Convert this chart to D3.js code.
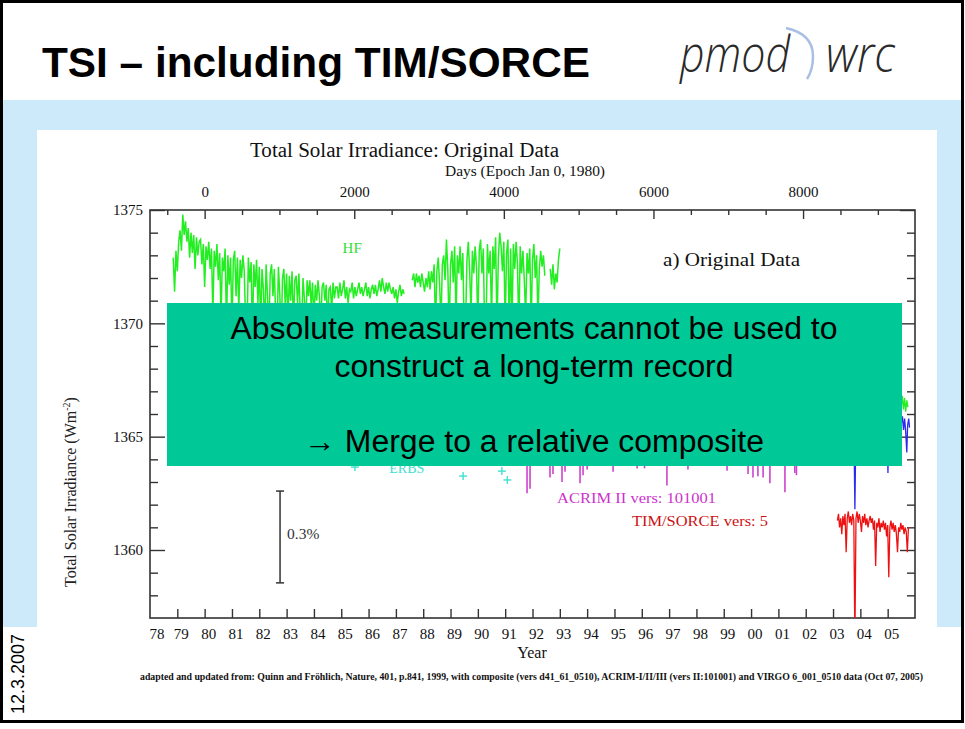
<!DOCTYPE html>
<html>
<head>
<meta charset="utf-8">
<script src="https://cdn.jsdelivr.net/npm/d3@7"></script>
<style>
  body { margin: 0; background: #fff; }
</style>
</head>
<body>
<div id="chart"></div>
<script>
// ---- data ----
// Nimbus-7 HF, one value every 0.05 yr from 1978.85 (null = data gap)
var hfStart = 1978.85, hfStep = 0.05;
var hfValues = [
  1372.9, 1371.4, 1373.2, 1372.3, 1373.6, 1374.1, 1373.2, 1374.8, 1373.9, 1374.5,
  1373.6, 1374.2, 1372.9, 1374.0, 1373.1, 1373.9, 1372.4, 1373.8, 1373.0, 1373.6,
  1373.7, 1372.6, 1373.5, 1371.6, 1373.4, 1372.8, 1373.6, 1372.4, 1373.3, 1370.4,
  1373.2, 1372.5, 1373.5, 1371.9, 1373.1, 1370.2, 1372.9, 1372.3, 1373.3, 1369.8,
  1373.0, 1371.7, 1372.9, 1369.8, 1372.8, 1373.2, 1371.2, 1372.9, 1370.6, 1372.8,
  1372.0, 1373.0, 1372.3, 1370.0, 1369.6, 1372.9, 1371.8, 1372.7, 1369.5, 1372.6,
  1371.6, 1372.8, 1370.9, 1372.5, 1369.8, 1372.4, 1371.5, 1369.7, 1372.6, 1371.2,
  1369.6, 1372.2, 1372.6, 1371.2, 1372.4, 1370.3, 1369.6, 1372.5, 1371.3, 1369.4,
  1372.0, 1372.4, 1370.8, 1372.2, 1370.0, 1372.1, 1371.0, 1372.3, 1369.9, 1371.9,
  1372.1, 1370.9, 1372.2, 1370.4, 1369.8, 1372.0, 1371.1, 1369.7, 1371.9, 1371.2,
  1371.9, 1370.8, 1371.8, 1370.1, 1371.7, 1371.0, 1371.9, 1371.2, 1369.9, 1371.6,
  1371.8, 1371.0, 1371.7, 1369.9, 1371.5, 1371.6, 1370.6, 1371.8, 1371.1, 1371.6,
  1371.6, 1371.1, 1371.8, 1371.2, 1371.5, 1371.9, 1371.1, 1371.6, 1370.9, 1371.5,
  1371.4, 1371.8, 1371.1, 1371.6, 1371.2, 1371.5, 1371.8, 1371.3, 1371.6, 1371.2,
  1371.5, 1371.8, 1371.2, 1371.6, 1371.1, 1371.5, 1371.7, 1371.3, 1371.7, 1371.2,
  1371.5, 1371.9, 1371.4, 1372.0, 1371.6, 1371.3, 1371.8, 1371.4, 1371.8, 1371.5,
  1371.3, 1371.6, 1371.1, 1371.5, 1370.9, 1371.4, 1371.7, 1371.2, 1371.5, 1371.3,
  null, null, null, null, null, 1371.9, 1372.2, 1371.6, 1372.2, 1371.8,
  1372.1, 1371.6, 1372.2, 1371.8, 1371.4, 1372.0, 1371.6, 1372.3, 1371.5, 1372.3,
  1371.8, 1372.6, 1369.8, 1372.3, 1372.9, 1371.7, 1370.0, 1372.6, 1373.0, 1371.9,
  1373.7, 1372.4, 1369.5, 1372.6, 1373.2, 1371.8, 1373.4, 1370.1, 1373.0, 1372.2,
  1373.4, 1371.9, 1373.1, 1369.6, 1369.9, 1372.8, 1373.6, 1372.3, 1370.4, 1373.2,
  1372.2, 1373.4, 1372.5, 1369.9, 1373.2, 1373.7, 1372.2, 1373.3, 1369.5, 1369.8,
  1373.5, 1372.2, 1373.2, 1370.2, 1373.4, 1372.4, 1373.8, 1369.7, 1372.9, 1374.0,
  1373.4, 1372.3, 1373.6, 1369.8, 1373.1, 1373.7, 1369.6, 1373.3, 1370.0, 1373.5,
  1372.4, 1373.6, 1372.6, 1369.6, 1373.4, 1372.2, 1373.2, 1371.9, 1370.3, 1373.1,
  1372.2, 1373.3, 1369.9, 1372.8, 1373.5, 1372.0, 1373.0, 1370.1, 1372.4, 1373.2,
  1372.5, 1373.0, 1372.1, null, null, null, 1372.4, 1371.7, 1372.6, 1371.5,
  1372.2, 1371.8, 1372.8, 1373.3
];

// TIM/SORCE, one value every 0.04 yr from 2003.16
var timStart = 2003.16, timStep = 0.04;
var timValues = [
  1361.3, 1361.6, 1361.0, 1361.4, 1360.7, 1361.5, 1361.1, 1361.6, 1359.9, 1361.4,
  1361.7, 1361.2, 1361.5, 1361.1, 1361.6, 1361.3, 1356.0, 1361.4, 1361.7, 1361.2,
  1361.6, 1361.3, 1360.8, 1361.5, 1361.2, 1361.6, 1361.1, 1361.4, 1361.0, 1361.3,
  1361.5, 1361.2, 1361.4, 1360.9, 1361.3, 1359.3, 1361.2, 1361.0, 1361.4, 1360.8,
  1361.2, 1361.0, 1361.3, 1360.9, 1361.2, 1360.6, 1361.1, 1358.8, 1361.0, 1361.3,
  1360.9, 1361.2, 1360.8, 1361.1, 1360.7, 1359.9, 1361.0, 1360.8, 1361.2, 1360.9,
  1361.1, 1360.7, 1361.0, 1360.8, 1359.9, 1361.0
];

// ACRIM II: level and the dips that reach below the level
var acrimLevel = 1364.6, acrimFirst = 1991.78, acrimLast = 2001.68;
var acrimDipYears  = [1991.80, 1991.91, 1992.64, 1992.75, 1993.08, 1993.19, 1993.74, 1993.85, 1994.00,
                      1994.95, 1995.83, 1996.10, 1996.92, 1997.69, 1999.12, 1999.89, 2000.07, 2000.25,
                      2000.44, 2000.69, 2001.24, 2001.60, 2001.66];
var acrimDipValues = [1362.5, 1362.7, 1363.2, 1363.35, 1363.0, 1363.45, 1362.95, 1363.3, 1363.55,
                      1363.45, 1363.6, 1363.6, 1362.85, 1363.55, 1363.5, 1363.35, 1363.2, 1363.25,
                      1363.2, 1362.95, 1362.55, 1363.4, 1363.3];

// ERBS
var erbsYears  = [1985.5, 1989.46, 1990.88, 1991.08];
var erbsValues = [1363.66, 1363.26, 1363.48, 1363.09];

// VIRGO
var virgoYears  = [1996.10, 1998.00, 2000.00, 2002.00, 2003.76, 2003.80, 2003.84, 2004.98, 2005.01, 2005.04,
                   2005.50, 2005.54, 2005.58, 2005.62, 2005.66, 2005.70, 2005.73, 2005.77, 2005.80];
var virgoValues = [1365.9, 1365.5, 1365.9, 1365.7, 1365.7, 1361.8, 1365.6, 1365.8, 1363.4, 1365.7,
                   1365.6, 1365.9, 1365.3, 1365.8, 1365.2, 1364.3, 1365.5, 1365.8, 1365.4];

// ACRIM III
var acrim3Years  = [2000.30, 2002.00, 2004.00, 2005.40, 2005.50, 2005.54, 2005.58, 2005.62, 2005.66, 2005.70, 2005.74];
var acrim3Values = [1366.4, 1366.6, 1366.3, 1366.5, 1366.3, 1366.8, 1366.2, 1366.7, 1366.1, 1366.6, 1366.3];

// axes
var yearTicks  = [1979, 1980, 1981, 1982, 1983, 1984, 1985, 1986, 1987, 1988, 1989, 1990, 1991, 1992,
                  1993, 1994, 1995, 1996, 1997, 1998, 1999, 2000, 2001, 2002, 2003, 2004, 2005];
var yearLabels = ["78", "79", "80", "81", "82", "83", "84", "85", "86", "87", "88", "89", "90", "91",
                  "92", "93", "94", "95", "96", "97", "98", "99", "00", "01", "02", "03", "04", "05"];
var dayTicks   = [0, 2000, 4000, 6000, 8000];
var dayMinor   = [-500, 500, 1000, 1500, 2500, 3000, 3500, 4500, 5000, 5500, 6500, 7000, 7500, 8500, 9000];
var irrTicks   = [1360, 1365, 1370, 1375];
var irrMinor   = [1358, 1359, 1361, 1362, 1363, 1364, 1366, 1367, 1368, 1369, 1371, 1372, 1373, 1374];

var W = 965, H = 729;
var SANS = "Liberation Sans, Arial, sans-serif";
var SERIF = "Liberation Serif, Times New Roman, serif";

var svg = d3.select("#chart").append("svg")
  .attr("width", W)
  .attr("height", H);

// slide background
svg.append("rect").attr("width", W).attr("height", H).attr("fill", "#fff");
svg.append("rect").attr("x", 3).attr("y", 100).attr("width", 959).attr("height", 527).attr("fill", "#cdeafb");
svg.append("rect").attr("x", 37).attr("y", 130).attr("width", 900).attr("height", 497).attr("fill", "#fff");

// slide title
svg.append("text")
  .attr("x", 42).attr("y", 77)
  .attr("font-family", SANS).attr("font-weight", "bold").attr("font-size", 43)
  .attr("fill", "#000")
  .attr("textLength", 548).attr("lengthAdjust", "spacingAndGlyphs")
  .text("TSI – including TIM/SORCE");

// logo
svg.append("text")
  .attr("x", 680).attr("y", 72)
  .attr("font-family", "Open Sans, sans-serif").attr("font-weight", 300).attr("font-style", "italic")
  .attr("font-size", 50).attr("fill", "#2a2a2a")
  .attr("textLength", 110).attr("lengthAdjust", "spacingAndGlyphs")
  .text("pmod");
svg.append("text")
  .attr("x", 826).attr("y", 72)
  .attr("font-family", "Open Sans, sans-serif").attr("font-weight", 300).attr("font-style", "italic")
  .attr("font-size", 50).attr("fill", "#2a2a2a")
  .attr("textLength", 69).attr("lengthAdjust", "spacingAndGlyphs")
  .text("wrc");
svg.append("path")
  .attr("d", "M786,28 Q813,34 813,56 Q813,70 807,79")
  .attr("fill", "none").attr("stroke", "#a9bfe3").attr("stroke-width", 2.5);

// date
svg.append("text")
  .attr("transform", "translate(24,674) rotate(-90)")
  .attr("text-anchor", "middle")
  .attr("font-family", SANS).attr("font-size", 18).attr("fill", "#000")
  .text("12.3.2007");

// ---- chart ----
var x = d3.scaleLinear().domain([1978, 2006]).range([150, 915]);
var days = d3.scaleLinear().domain([(1978 - 1980) * 365.25, (2006 - 1980) * 365.25]).range([150, 915]);
var y = d3.scaleLinear().domain([1357, 1375]).range([618, 210]);

var chart = svg.append("g").attr("font-family", SERIF);

chart.append("clipPath").attr("id", "plotclip")
  .append("rect").attr("x", 150).attr("y", 210).attr("width", 765).attr("height", 408);

chart.append("text")
  .attr("x", 250).attr("y", 157)
  .attr("font-size", 20).attr("fill", "#111")
  .attr("textLength", 309).attr("lengthAdjust", "spacingAndGlyphs")
  .text("Total Solar Irradiance: Original Data");
chart.append("text")
  .attr("x", 445).attr("y", 176)
  .attr("font-size", 15).attr("fill", "#111")
  .attr("textLength", 160).attr("lengthAdjust", "spacingAndGlyphs")
  .text("Days (Epoch Jan 0, 1980)");

function styleAxis(g) {
  g.attr("font-family", SERIF).attr("font-size", 15);
  g.select(".domain").remove();
  g.selectAll(".tick line").attr("stroke", "#333").attr("stroke-width", 1.4);
  g.selectAll(".tick text").attr("fill", "#111");
}

// left
chart.append("g").attr("transform", "translate(150,0)")
  .call(d3.axisLeft(y).tickValues(irrTicks).tickSize(-15).tickPadding(7).tickFormat(d3.format("d")))
  .call(styleAxis);
chart.append("g").attr("transform", "translate(150,0)")
  .call(d3.axisLeft(y).tickValues(irrMinor).tickSize(-8).tickFormat(""))
  .call(styleAxis);
// right
chart.append("g").attr("transform", "translate(915,0)")
  .call(d3.axisRight(y).tickValues(irrTicks).tickSize(-15).tickFormat(""))
  .call(styleAxis);
chart.append("g").attr("transform", "translate(915,0)")
  .call(d3.axisRight(y).tickValues(irrMinor).tickSize(-8).tickFormat(""))
  .call(styleAxis);
// top (days)
chart.append("g").attr("transform", "translate(0,210)")
  .call(d3.axisTop(days).tickValues(dayTicks).tickSize(-9).tickPadding(13).tickFormat(d3.format("d")))
  .call(styleAxis);
chart.append("g").attr("transform", "translate(0,210)")
  .call(d3.axisTop(days).tickValues(dayMinor).tickSize(-5).tickFormat(""))
  .call(styleAxis);
// bottom (years)
chart.append("g").attr("transform", "translate(0,618)")
  .call(d3.axisBottom(x).tickValues(yearTicks).tickSize(-9).tickFormat(""))
  .call(styleAxis);
chart.append("g").selectAll("text")
  .data(yearLabels)
  .enter().append("text")
  .attr("x", function(d, i) { return x(1978 + i) + (i === 0 ? 7 : 4); })
  .attr("y", 639)
  .attr("text-anchor", "middle")
  .attr("font-size", 15).attr("fill", "#111")
  .text(function(d) { return d; });
chart.append("text")
  .attr("x", 532).attr("y", 658).attr("text-anchor", "middle")
  .attr("font-size", 16).attr("fill", "#111")
  .text("Year");

// frame
chart.append("rect")
  .attr("x", 150).attr("y", 210).attr("width", 765).attr("height", 408)
  .attr("fill", "none").attr("stroke", "#333").attr("stroke-width", 1.6);

// y label
var yl = chart.append("text")
  .attr("transform", "translate(76,492) rotate(-90)")
  .attr("text-anchor", "middle")
  .attr("font-size", 16).attr("fill", "#222");
yl.append("tspan").text("Total Solar Irradiance (Wm");
yl.append("tspan").attr("dy", -6).attr("font-size", 10).text("-2");
yl.append("tspan").attr("dy", 6).text(")");

// series
var data = chart.append("g").attr("clip-path", "url(#plotclip)");

var line = d3.line()
  .defined(function(d) { return d[1] != null; })
  .x(function(d) { return x(d[0]); })
  .y(function(d) { return y(d[1]); });

var hf = hfValues.map(function(v, i) { return [hfStart + i * hfStep, v]; });
data.append("path").datum(hf)
  .attr("d", line).attr("fill", "none")
  .attr("stroke", "#22ee22").attr("stroke-width", 1.5);

var acrim3 = acrim3Years.map(function(t, i) { return [t, acrim3Values[i]]; });
data.append("path").datum(acrim3)
  .attr("d", line).attr("fill", "none")
  .attr("stroke", "#22ee22").attr("stroke-width", 1.3);

data.append("path").datum([[acrimFirst, acrimLevel], [acrimLast, acrimLevel]])
  .attr("d", line).attr("fill", "none")
  .attr("stroke", "#cc44cc").attr("stroke-width", 1.2);
data.selectAll(".acrim").data(acrimDipYears)
  .enter().append("line")
  .attr("class", "acrim")
  .attr("x1", function(d) { return x(d); })
  .attr("x2", function(d) { return x(d); })
  .attr("y1", y(acrimLevel))
  .attr("y2", function(d, i) { return y(acrimDipValues[i]); })
  .attr("stroke", "#cc44cc").attr("stroke-width", 1.6);

var virgo = virgoYears.map(function(t, i) { return [t, virgoValues[i]]; });
data.append("path").datum(virgo)
  .attr("d", line).attr("fill", "none")
  .attr("stroke", "#2a2aee").attr("stroke-width", 1.3);

var tim = timValues.map(function(v, i) { return [timStart + i * timStep, v]; });
data.append("path").datum(tim)
  .attr("d", line).attr("fill", "none")
  .attr("stroke", "#ee1111").attr("stroke-width", 1.3);

var erbs = data.selectAll(".erbs").data(erbsYears)
  .enter().append("g").attr("class", "erbs")
  .attr("transform", function(d, i) { return "translate(" + x(d) + "," + y(erbsValues[i]) + ")"; })
  .attr("stroke", "#40e0d0").attr("stroke-width", 1.4);
erbs.append("line").attr("x1", -4).attr("x2", 4);
erbs.append("line").attr("y1", -4).attr("y2", 4);

// series labels
chart.append("text").attr("x", x(1985.4)).attr("y", y(1373.1)).attr("text-anchor", "middle")
  .attr("font-size", 15).attr("fill", "#33dd33").text("HF");
chart.append("text").attr("x", x(1987.4)).attr("y", 473).attr("text-anchor", "middle")
  .attr("font-size", 14).attr("fill", "#40e0d0").text("ERBS");
chart.append("text").attr("x", x(1992.9)).attr("y", y(1362.07))
  .attr("font-size", 15).attr("fill", "#cc33cc")
  .attr("textLength", 159).attr("lengthAdjust", "spacingAndGlyphs")
  .text("ACRIM II vers: 101001");
chart.append("text").attr("x", x(1995.64)).attr("y", y(1361.06))
  .attr("font-size", 15).attr("fill", "#cc1111")
  .attr("textLength", 136).attr("lengthAdjust", "spacingAndGlyphs")
  .text("TIM/SORCE vers: 5");
chart.append("text").attr("x", x(1996.78)).attr("y", y(1372.53))
  .attr("font-size", 18).attr("fill", "#111")
  .attr("textLength", 137).attr("lengthAdjust", "spacingAndGlyphs")
  .text("a) Original Data");

// 0.3% scale bar
var barYear = 1982.76, barLow = 1358.55, barHigh = 1362.6;
var bar = chart.append("g").attr("stroke", "#333").attr("stroke-width", 1.5);
bar.append("line").attr("x1", x(barYear)).attr("x2", x(barYear)).attr("y1", y(barLow)).attr("y2", y(barHigh));
bar.append("line").attr("x1", x(barYear) - 4).attr("x2", x(barYear) + 4).attr("y1", y(barLow)).attr("y2", y(barLow));
bar.append("line").attr("x1", x(barYear) - 4).attr("x2", x(barYear) + 4).attr("y1", y(barHigh)).attr("y2", y(barHigh));
chart.append("text").attr("x", x(barYear) + 7).attr("y", 539)
  .attr("font-size", 15.5).attr("fill", "#333").text("0.3%");

// source note
chart.append("text")
  .attr("x", 140).attr("y", 680)
  .attr("font-size", 9.5).attr("font-weight", "bold").attr("fill", "#111")
  .attr("textLength", 783).attr("lengthAdjust", "spacingAndGlyphs")
  .text("adapted and updated from: Quinn and Fröhlich, Nature, 401, p.841, 1999, with composite (vers d41_61_0510), ACRIM-I/II/III (vers II:101001) and VIRGO 6_001_0510 data (Oct 07, 2005)");

// ---- overlay box ----
svg.append("rect")
  .attr("x", 167).attr("y", 303).attr("width", 735).attr("height", 163)
  .attr("fill", "#00c896");
var boxLines = [
  { t: "Absolute measurements cannot be used to", y: 339, w: 607 },
  { t: "construct a long-term record", y: 377, w: 399 },
  { t: "\u2192 Merge to a relative composite", y: 452, w: 460 }
];
svg.append("g").selectAll("text").data(boxLines)
  .enter().append("text")
  .attr("x", 534).attr("y", function(d) { return d.y; })
  .attr("text-anchor", "middle")
  .attr("font-family", SANS).attr("font-size", 31).attr("fill", "#000")
  .attr("textLength", function(d) { return d.w; }).attr("lengthAdjust", "spacingAndGlyphs")
  .text(function(d) { return d.t; });

// slide border
svg.append("rect")
  .attr("x", 1.5).attr("y", 1.5).attr("width", 961).attr("height", 720)
  .attr("fill", "none").attr("stroke", "#000").attr("stroke-width", 3);
</script>
</body>
</html>
